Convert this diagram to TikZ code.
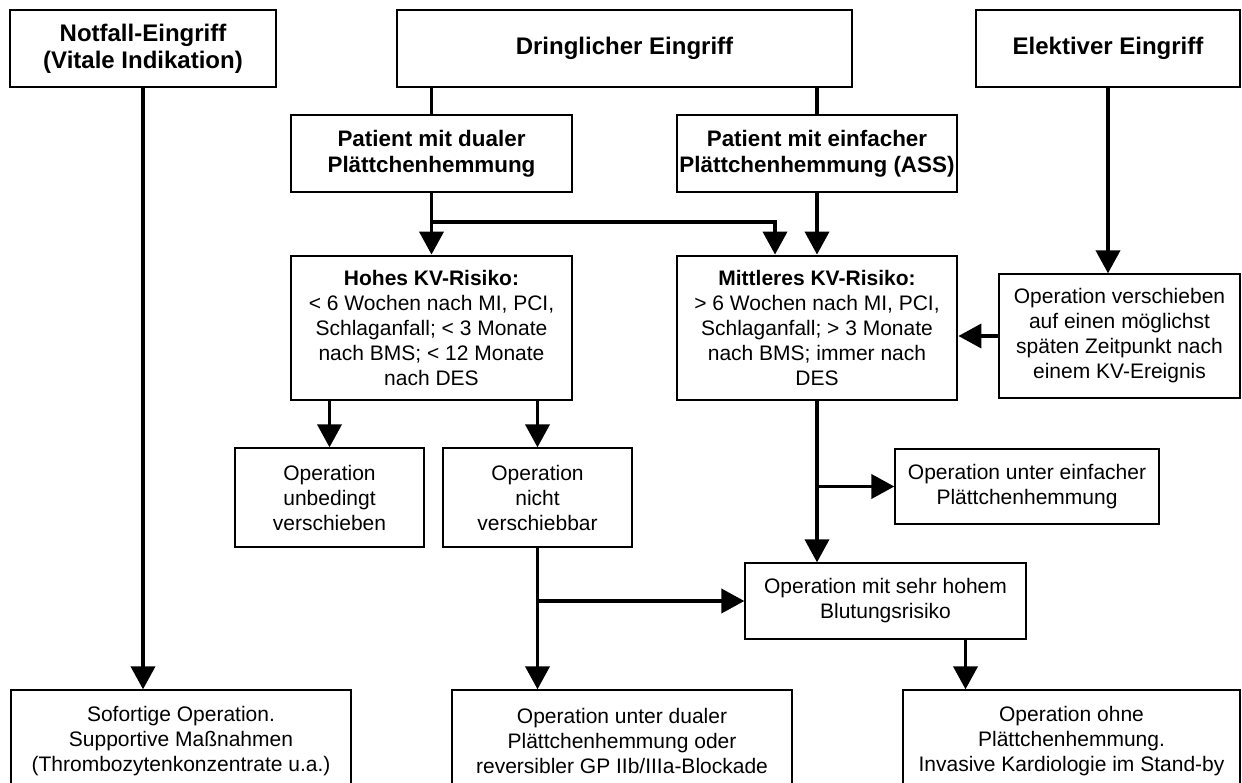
\documentclass[tikz,border=0pt]{standalone}
\usepackage{fontspec}
\setmainfont{Liberation Sans}
\usetikzlibrary{arrows.meta,calc}
\newcommand\bx[7]{\node[#6, minimum width={#4-#2}, minimum height={#5-#3}] (#1) at ({(#2+#4)/2},{(#3+#5)/2}) {#7};}
\tikzset{
 thickbox/.style={draw, line width=2.8pt, align=center, inner sep=2pt},
 thinbox/.style={draw, line width=1.3pt, align=center, inner sep=2pt},
 conn/.style={line width=3.8pt},
 arr/.style={conn, -{Triangle[length=23pt,width=24pt]}},
 head/.style={font=\bfseries\fontsize{24}{27}\selectfont},
 pat/.style={font=\bfseries\fontsize{22.4}{26}\selectfont},
 body/.style={font=\fontsize{21}{25}\selectfont},
 txt/.style={body, align=center, inner sep=0pt},
}
\begin{document}
\begin{tikzpicture}[x=1pt,y=-1pt]
\fill[white] (0,0) rectangle (1242,783);
\useasboundingbox (0,0) rectangle (1242,783);
% top row
\bx{notfall}{10}{10}{276}{87}{thickbox,head}{Notfall-Eingriff\\(Vitale Indikation)}
\bx{dring}{397}{10}{852}{87}{thickbox,head}{Dringlicher Eingriff}
\bx{elektiv}{976}{10}{1240}{87}{thickbox,head}{Elektiver Eingriff}
% patient row
\bx{dual}{291}{115}{572}{192}{thickbox,pat}{Patient mit dualer\\Plättchenhemmung}
\bx{einfach}{677}{115}{957}{192}{thickbox,pat}{Patient mit einfacher\\Plättchenhemmung (ASS)}
% risk row
\bx{hohes}{291}{256}{572}{400}{thickbox,body}{\textbf{Hohes KV-Risiko:}\\< 6 Wochen nach MI, PCI,\\Schlaganfall; < 3 Monate\\nach BMS; < 12 Monate\\nach DES}
\bx{mittel}{677}{256}{957}{400}{thickbox,body}{\textbf{Mittleres KV-Risiko:}\\> 6 Wochen nach MI, PCI,\\Schlaganfall; > 3 Monate\\nach BMS; immer nach\\DES}
\bx{opver}{999}{274}{1240}{398}{thinbox,body}{Operation verschieben\\auf einen möglichst\\späten Zeitpunkt nach\\einem KV-Ereignis}
% middle
\bx{unbed}{235}{448}{424}{547}{thinbox,body}{Operation\\unbedingt\\verschieben}
\bx{nicht}{443}{448}{632}{547}{thinbox,body}{Operation\\nicht\\verschiebbar}
\bx{opeinf}{895}{449}{1159}{524}{thinbox,body}{Operation unter einfacher\\Plättchenhemmung}
\bx{opsehr}{745}{563}{1026}{639}{thinbox,body}{Operation mit sehr hohem\\Blutungsrisiko}
% bottom row
\bx{sofort}{11}{690}{351}{790}{thinbox}{}
\bx{dualop}{452}{690}{792}{790}{thinbox}{}
\bx{ohne}{903}{690}{1240}{790}{thinbox}{}
\node[txt] (sofortT) at (181,741) {Sofortige Operation.\\Supportive Maßnahmen\\(Thrombozytenkonzentrate u.a.)};
\node[txt] (dualopT) at (622,741) {Operation unter dualer\\Plättchenhemmung oder\\reversibler GP IIb/IIIa-Blockade};
\node[txt] (ohneT) at (1071.5,741) {Operation ohne\\Plättchenhemmung.\\Invasive Kardiologie im Stand-by};
% connectors
\draw[arr] (notfall.south) -- (notfall.south |- sofort.north);
\draw[conn] (dring.south -| dual.north) -- (dual.north);
\draw[conn] (dring.south -| einfach.north) -- (einfach.north);
\draw[arr] (dual.south) -- (hohes.north);
\coordinate (b1) at ($(dual.south)+(0,29)$);
\coordinate (b2) at ($(mittel.north)+(-42,0)$);
\draw[arr] (b1) -| (b2);
\draw[arr] (einfach.south) -- (mittel.north);
\draw[arr] (elektiv.south) -- (elektiv.south |- opver.north);
\draw[arr] (opver.west) -- (opver.west -| mittel.east);
\draw[arr] (unbed.north |- hohes.south) -- (unbed.north);
\draw[arr] (nicht.north |- hohes.south) -- (nicht.north);
\draw[arr] (mittel.south) -- (mittel.south |- opsehr.north);
\draw[arr] (mittel.south |- opeinf.west) -- (opeinf.west);
\draw[arr] (nicht.south) -- (nicht.south |- dualop.north);
\draw[arr] (nicht.south |- opsehr.west) -- (opsehr.west);
\coordinate (o1) at ($(opsehr.south)+(80,0)$);
\draw[arr] (o1) -- (o1 |- ohne.north);
\end{tikzpicture}
\end{document}
